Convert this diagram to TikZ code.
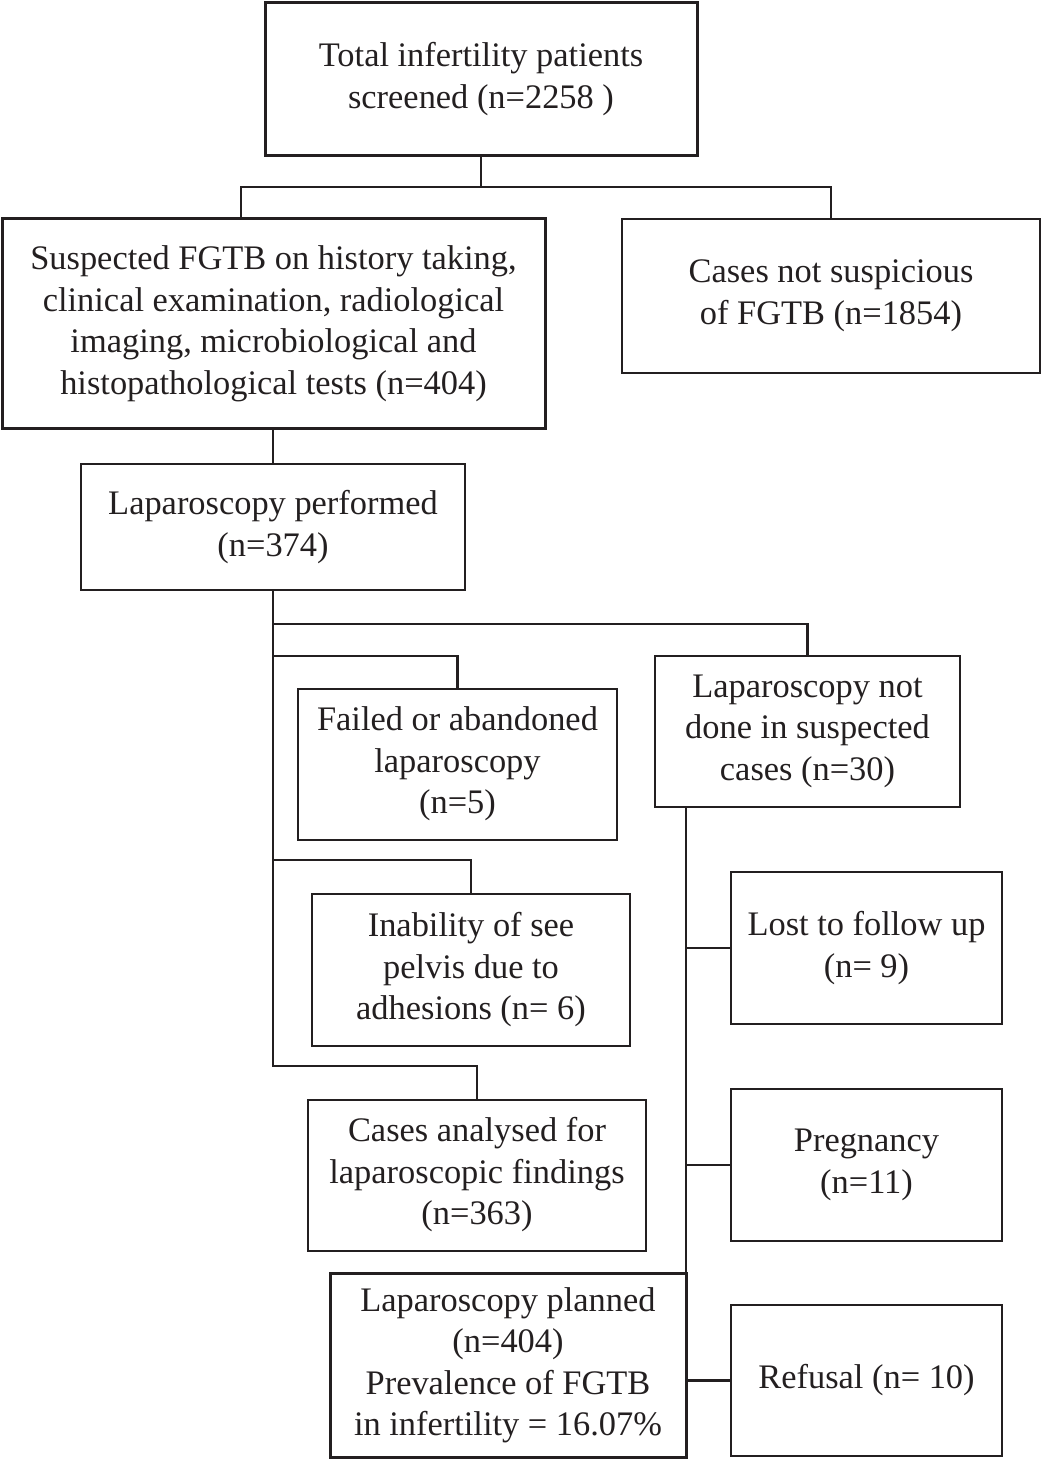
\documentclass[tikz,border=0pt]{standalone}
\usepackage{fontspec}
\setmainfont{Liberation Serif}
\definecolor{ink}{HTML}{231F20}
\begin{document}
\begin{tikzpicture}[x=0.5pt,y=-0.5pt,
  box/.style={draw=ink, text=ink, align=center, inner sep=0pt, line width=1pt,
    font=\fontsize{17.2}{20.75}\selectfont},
  thickbox/.style={box, line width=1.5pt},
  conn/.style={draw=ink, line width=1.3pt},
  thinconn/.style={draw=ink, line width=0.8pt}]
\useasboundingbox (0,0) rectangle (1041,1459);
\node[thickbox, minimum width=216pt, minimum height=76.5pt] (top) at (481,79)
  {Total infertility patients\\screened (n=2258 )};
\node[thickbox, minimum width=271.5pt, minimum height=105pt] (susp) at (273.5,324)
  {Suspected FGTB on history taking,\\clinical examination, radiological\\imaging, microbiological and\\histopathological tests (n=404)};
\node[box, line width=1.25pt, minimum width=209pt, minimum height=77pt] (notsusp) at (831,296)
  {Cases not suspicious\\of FGTB (n=1854)};
\node[box, minimum width=192pt, minimum height=63pt] (lapperf) at (273,527)
  {Laparoscopy performed\\(n=374)};
\node[box, minimum width=159.5pt, minimum height=75.5pt] (failed) at (457.5,764)
  {Failed or abandoned\\laparoscopy\\(n=5)};
\node[box, minimum width=152.5pt, minimum height=75.5pt] (notdone) at (807.5,731)
  {Laparoscopy not\\done in suspected\\cases (n=30)};
\node[box, minimum width=159pt, minimum height=76pt] (inab) at (471,970)
  {Inability of see\\pelvis due to\\adhesions (n= 6)};
\node[box, minimum width=169pt, minimum height=75.5pt] (analysed) at (477,1175)
  {Cases analysed for\\laparoscopic findings\\(n=363)};
\node[box, minimum width=135.5pt, minimum height=76pt] (lost) at (866.5,948)
  {Lost to follow up\\(n= 9)};
\node[box, minimum width=135.5pt, minimum height=76pt] (preg) at (866.5,1165)
  {Pregnancy\\(n=11)};
\node[thickbox, minimum width=178pt, minimum height=92pt] (planned) at (508,1365.5)
  {Laparoscopy planned\\(n=404)\\Prevalence of FGTB\\in infertility = 16.07\%};
\node[box, line width=1.25pt, minimum width=135.5pt, minimum height=75.5pt] (refusal) at (866.5,1380.5)
  {Refusal (n= 10)};
% junctions
\coordinate (j1) at (482,187);
\coordinate (c241) at (241,0);
\coordinate (j2) at (273,624);
\coordinate (j3) at (273,656);
\coordinate (j4) at (273,860);
\coordinate (j5) at (273,1066);
\coordinate (r0) at (686,0);
% top connectors
\draw[thinconn] (top.south) -- (top.south |- j1);
\draw[thinconn] (susp.north -| c241) |- (j1);
\draw[conn] (j1) -| (notsusp.north);
\draw[thinconn] (lapperf.north) -- (lapperf.north |- susp.south);
% left spine
\draw[conn] (lapperf.south) -- (j5) -| (analysed.north);
\draw[conn] (j2) -| (notdone.north);
\draw[conn] (j3) -| (failed.north);
\draw[conn] (j4) -| (inab.north);
% right spine
\draw[conn] (notdone.south -| r0) -- (r0 |- planned.north);
\draw[conn] (lost.west) -- (lost.west -| r0);
\draw[conn] (preg.west) -- (preg.west -| r0);
\draw[conn] (refusal.west) -- (refusal.west -| r0);
\end{tikzpicture}
\end{document}
